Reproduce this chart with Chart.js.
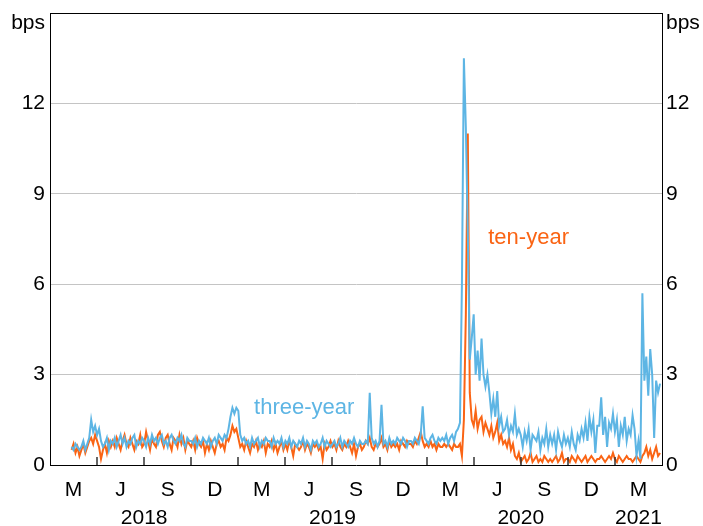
<!DOCTYPE html>
<html>
<head>
<meta charset="utf-8">
<script src="https://cdn.jsdelivr.net/npm/chart.js@4/dist/chart.umd.min.js"></script>
<style>
  body { margin: 0; background: #fff; }
  #wrap { width: 703px; height: 526px; position: relative; }
</style>
</head>
<body>
<div id="wrap"><canvas id="spreads"></canvas></div>
<script>
// x is measured in months since January 2018; data sampled every 1/8 month
const START_MONTH = 1.375;
const STEP = 0.125;
const monthLabels = ['M', 'J', 'S', 'D'];
const yearLabels = ['2018', '2019', '2020', '2021'];
const yearCentres = [6, 18, 30, 37.5];
const yTicks = [0, 3, 6, 9, 12];

// three-year, bps
const threeYear = [
  0.6, 0.5, 0.7, 0.6, 0.5,
  0.6, 0.8, 0.5, 0.7, 0.9, 1.5, 1.1, 1.3,
  1.0, 1.2, 0.8, 0.6, 0.7, 0.9, 0.5, 0.8,
  0.7, 0.9, 0.6, 0.8, 1.0, 0.7, 0.9, 0.6,
  0.8, 0.7, 0.9, 1.0, 0.6, 0.8, 0.7, 0.9,
  0.8, 0.6, 0.9, 0.7, 1.0, 0.8, 0.9, 0.7,
  0.9, 1.0, 0.7, 0.8, 0.6, 0.9, 1.0, 0.8,
  0.7, 0.9, 0.8, 1.0, 0.7, 0.6, 0.9, 0.8,
  0.8, 0.7, 0.9, 0.6, 0.8, 0.7, 0.9, 0.8,
  0.7, 0.9, 0.6, 0.8, 0.9, 0.7, 1.0, 0.9,
  0.8, 1.0, 0.9, 1.2, 1.6, 1.9, 1.7, 1.9,
  1.8, 1.0, 0.8, 0.9, 0.7, 0.8, 0.6, 0.9,
  0.7, 0.8, 0.9, 0.6, 0.8, 0.7, 0.9, 0.8,
  0.8, 0.6, 0.9, 0.7, 0.8, 0.7, 0.9, 0.6,
  0.8, 0.7, 0.9, 0.6, 0.8, 0.7, 0.6, 0.8,
  0.7, 0.9, 0.6, 0.8, 0.7, 0.5, 0.8, 0.7,
  0.8, 0.6, 0.7, 0.9, 0.6, 0.8, 0.7, 0.6,
  0.7, 0.8, 0.6, 0.7, 0.9, 0.6, 0.8, 0.7,
  0.6, 0.8, 0.7, 0.9, 0.7, 0.6, 0.8, 0.7,
  0.7, 0.8, 0.7, 2.4, 0.9, 0.7, 0.8, 0.6,
  0.8, 2.0, 0.7, 0.8, 0.6, 0.9, 0.7, 0.8,
  0.7, 0.9, 0.8, 0.7, 0.9, 0.8, 0.6, 0.8,
  0.8, 0.7, 0.9, 0.8, 0.7, 1.0, 1.95, 0.9,
  0.8, 0.7, 0.9, 1.0, 0.8, 0.7, 0.9, 0.8,
  0.9, 0.8, 1.0, 0.7, 0.9, 1.0, 0.8, 1.1,
  1.2, 1.4, 6.0, 13.5, 11.2, 7.7, 3.5, 4.2,
  5.0, 3.0, 3.8, 2.8, 4.2, 3.0, 2.6, 3.0,
  2.4, 1.7, 2.2, 1.6, 2.45, 1.3, 1.6, 1.1,
  1.2, 1.5, 1.0, 1.3, 1.1, 1.7, 1.0, 1.2,
  1.0, 0.6, 1.1, 0.8, 1.2, 0.5, 1.0, 0.9,
  0.8, 1.1, 0.5, 0.9, 0.7, 1.2, 0.6, 1.0,
  0.7, 1.0, 0.5, 1.1, 0.8, 0.6, 1.0, 0.7,
  0.9, 0.6, 1.1, 0.7, 0.5, 1.0, 0.8, 1.2,
  0.9, 1.4, 0.8, 1.6, 1.1, 1.5, 0.4, 1.3,
  1.3, 2.25, 1.0, 1.6, 0.6, 1.4, 1.2, 1.7,
  1.1, 1.5, 0.6, 1.3, 1.0, 1.6, 0.8, 1.2,
  1.0, 1.65, 1.2, 0.3, 0.8, 0.2, 5.7, 2.8,
  3.6, 2.3, 3.85, 3.0, 0.9, 2.8, 2.4, 2.7
];

// ten-year, bps
const tenYear = [
  0.5, 0.7, 0.4, 0.6, 0.3,
  0.5, 0.7, 0.4, 0.6, 0.8, 0.9, 0.7, 1.0,
  0.8, 0.6, 0.2, 0.5, 0.7, 0.4, 0.8, 0.6,
  0.8, 0.6, 0.9, 0.7, 0.5, 0.8, 1.0, 0.7,
  0.6, 0.9, 0.7, 0.5, 0.8, 0.7, 1.0, 0.6,
  0.7, 1.1, 0.8, 0.5, 0.9, 0.7, 0.6, 1.0,
  1.1, 0.8, 0.6, 0.9, 1.0, 0.7, 0.5, 0.9,
  0.8, 0.6, 1.0, 0.7, 0.9, 0.5, 0.8, 0.7,
  0.6, 0.8, 0.5, 0.9, 0.7, 0.6, 0.8, 0.4,
  0.7, 0.5, 0.8, 0.6, 0.4, 0.7, 0.8, 0.6,
  0.7, 0.5, 0.9, 0.8, 1.0, 1.3, 1.1, 1.2,
  0.9, 0.6, 0.7, 0.5, 0.8, 0.6, 0.4, 0.7,
  0.6, 0.8, 0.5, 0.7, 0.6, 0.8, 0.4, 0.7,
  0.6, 0.8, 0.5, 0.7, 0.4, 0.6, 0.8, 0.5,
  0.7, 0.5, 0.8, 0.6, 0.3, 0.7, 0.6, 0.5,
  0.6, 0.8, 0.5, 0.7, 0.6, 0.4, 0.7, 0.6,
  0.7, 0.5, 0.6, 0.2, 0.7, 0.5, 0.6, 0.8,
  0.6, 0.7, 0.5, 0.8, 0.6, 0.5, 0.7, 0.6,
  0.8, 0.6, 0.4, 0.7, 0.3, 0.6, 0.7, 0.5,
  0.6, 0.8, 0.7, 0.9, 0.6, 0.5, 0.7, 0.6,
  0.7, 0.9, 0.6, 0.7, 0.5, 0.8, 0.6, 0.7,
  0.6, 0.7, 0.5, 0.8, 0.7, 0.6, 0.8, 0.7,
  0.7, 0.6, 0.8, 0.7, 0.9, 1.1, 0.8, 0.6,
  0.7, 0.6, 0.8, 0.6, 0.7, 0.5, 0.7, 0.6,
  0.6, 0.7, 0.6, 0.7, 0.6, 0.5, 0.7, 0.6,
  0.6, 0.7, 0.3, 1.5, 5.0, 11.0, 2.4, 1.5,
  1.3, 1.8, 1.2, 1.5, 1.6, 1.1, 1.4, 1.2,
  1.0, 1.3, 0.9, 1.1, 1.4, 0.8, 1.0, 0.7,
  0.8, 0.6, 0.9, 0.5, 0.7, 0.3, 0.2, 0.4,
  0.1, 0.2, 0.3, 0.1, 0.2, 0.4, 0.1, 0.2,
  0.3, 0.1, 0.2, 0.1, 0.3, 0.2, 0.1, 0.2,
  0.1, 0.2, 0.3, 0.1, 0.2, 0.4, 0.1, 0.2,
  0.2, 0.1, 0.3, 0.2, 0.1, 0.3, 0.2, 0.1,
  0.2, 0.3, 0.1, 0.2, 0.3, 0.2, 0.1, 0.2,
  0.2, 0.3, 0.2, 0.1, 0.2, 0.3, 0.2, 0.4,
  0.2, 0.1, 0.3, 0.2, 0.1, 0.2, 0.3, 0.2,
  0.2, 0.1, 0.2, 0.3, 0.2, 0.1, 0.3, 0.4,
  0.6, 0.3, 0.5, 0.2, 0.4, 0.6, 0.3, 0.4
];

const BLUE = '#5DB5E4';
const ORANGE = '#FA6414';
const FAMILY = 'Arial, "Liberation Sans", sans-serif';
const FONT = { family: FAMILY, size: 21 };

function toPoints(values) {
  return values.map((v, i) => ({ x: START_MONTH + i * STEP, y: v }));
}

// frame, inner quarter ticks, unit labels and series labels
const decorations = {
  id: 'decorations',
  afterDatasetsDraw(chart) {
    const { ctx, scales } = chart;
    ctx.save();
    ctx.font = '22px ' + FAMILY;
    ctx.textAlign = 'center';
    ctx.textBaseline = 'middle';
    ctx.fillStyle = BLUE;
    ctx.fillText('three-year', scales.x.getPixelForValue(16.2), scales.y.getPixelForValue(1.9));
    ctx.fillStyle = ORANGE;
    ctx.fillText('ten-year', scales.x.getPixelForValue(30.5), scales.y.getPixelForValue(7.55));
    ctx.restore();
  },
  afterDraw(chart) {
    const { ctx, chartArea, scales } = chart;
    ctx.save();
    ctx.strokeStyle = '#000';
    ctx.lineWidth = 1;
    ctx.beginPath();
    ctx.moveTo(chartArea.left, chartArea.top + 0.5);
    ctx.lineTo(chartArea.right, chartArea.top + 0.5);
    ctx.stroke();
    ctx.strokeStyle = '#333';
    ctx.lineWidth = 1.5;
    for (let m = 3; m < 39; m += 3) {
      const px = Math.round(scales.x.getPixelForValue(m));
      ctx.beginPath();
      ctx.moveTo(px, chartArea.bottom);
      ctx.lineTo(px, chartArea.bottom - 8);
      ctx.stroke();
    }
    ctx.fillStyle = '#000';
    ctx.font = '21px ' + FAMILY;
    ctx.textBaseline = 'middle';
    ctx.textAlign = 'right';
    ctx.fillText('bps', chartArea.left - 5, chartArea.top + 10);
    ctx.textAlign = 'left';
    ctx.fillText('bps', chartArea.right + 4, chartArea.top + 10);
    ctx.restore();
  }
};

new Chart(document.getElementById('spreads'), {
  type: 'line',
  data: {
    datasets: [
      { label: 'three-year', data: toPoints(threeYear), borderColor: BLUE, borderWidth: 2 },
      { label: 'ten-year', data: toPoints(tenYear), borderColor: ORANGE, borderWidth: 2 }
    ]
  },
  options: {
    responsive: true,
    maintainAspectRatio: false,
    animation: false,
    events: [],
    layout: { padding: { top: 13, left: 0, right: 0, bottom: 0 } },
    elements: { point: { radius: 0 }, line: { tension: 0 } },
    plugins: { legend: { display: false }, tooltip: { enabled: false } },
    scales: {
      x: {
        type: 'linear', position: 'bottom', min: 0, max: 39,
        grid: { display: false, drawTicks: false },
        border: { color: '#000', width: 1 },
        afterBuildTicks: s => { s.ticks = [1.5, 4.5, 7.5, 10.5, 13.5, 16.5, 19.5, 22.5, 25.5, 28.5, 31.5, 34.5, 37.5].map(v => ({ value: v })); },
        afterFit: s => { s.height = 37; s.paddingLeft = 0; s.paddingRight = 0; },
        ticks: { font: FONT, color: '#000', padding: 13, maxRotation: 0, autoSkip: false,
          callback: (v, i) => monthLabels[i % 4] }
      },
      x2: {
        type: 'linear', position: 'bottom', min: 0, max: 39,
        grid: { display: false, drawTicks: false },
        border: { display: false },
        afterBuildTicks: s => { s.ticks = yearCentres.map(v => ({ value: v })); },
        afterFit: s => { s.height = 24; s.paddingLeft = 0; s.paddingRight = 0; },
        ticks: { font: FONT, color: '#000', padding: 4, maxRotation: 0, autoSkip: false,
          callback: (v, i) => yearLabels[i] }
      },
      y: {
        position: 'left', min: 0, max: 15,
        afterBuildTicks: s => { s.ticks = yTicks.map(v => ({ value: v })); },
        afterFit: s => { s.width = 50; s.paddingTop = 0; s.paddingBottom = 0; },
        grid: { drawTicks: false, lineWidth: 1,
          color: c => c.tick.value === 0 ? 'rgba(0,0,0,0)' : '#C4C4C4' },
        border: { color: '#000', width: 1 },
        ticks: { font: FONT, color: '#000', padding: 5 }
      },
      y2: {
        position: 'right', min: 0, max: 15,
        afterBuildTicks: s => { s.ticks = yTicks.map(v => ({ value: v })); },
        afterFit: s => { s.width = 41; s.paddingTop = 0; s.paddingBottom = 0; },
        grid: { display: false, drawTicks: false },
        border: { color: '#000', width: 1 },
        ticks: { font: FONT, color: '#000', padding: 4 }
      }
    }
  },
  plugins: [decorations]
});
</script>
</body>
</html>
